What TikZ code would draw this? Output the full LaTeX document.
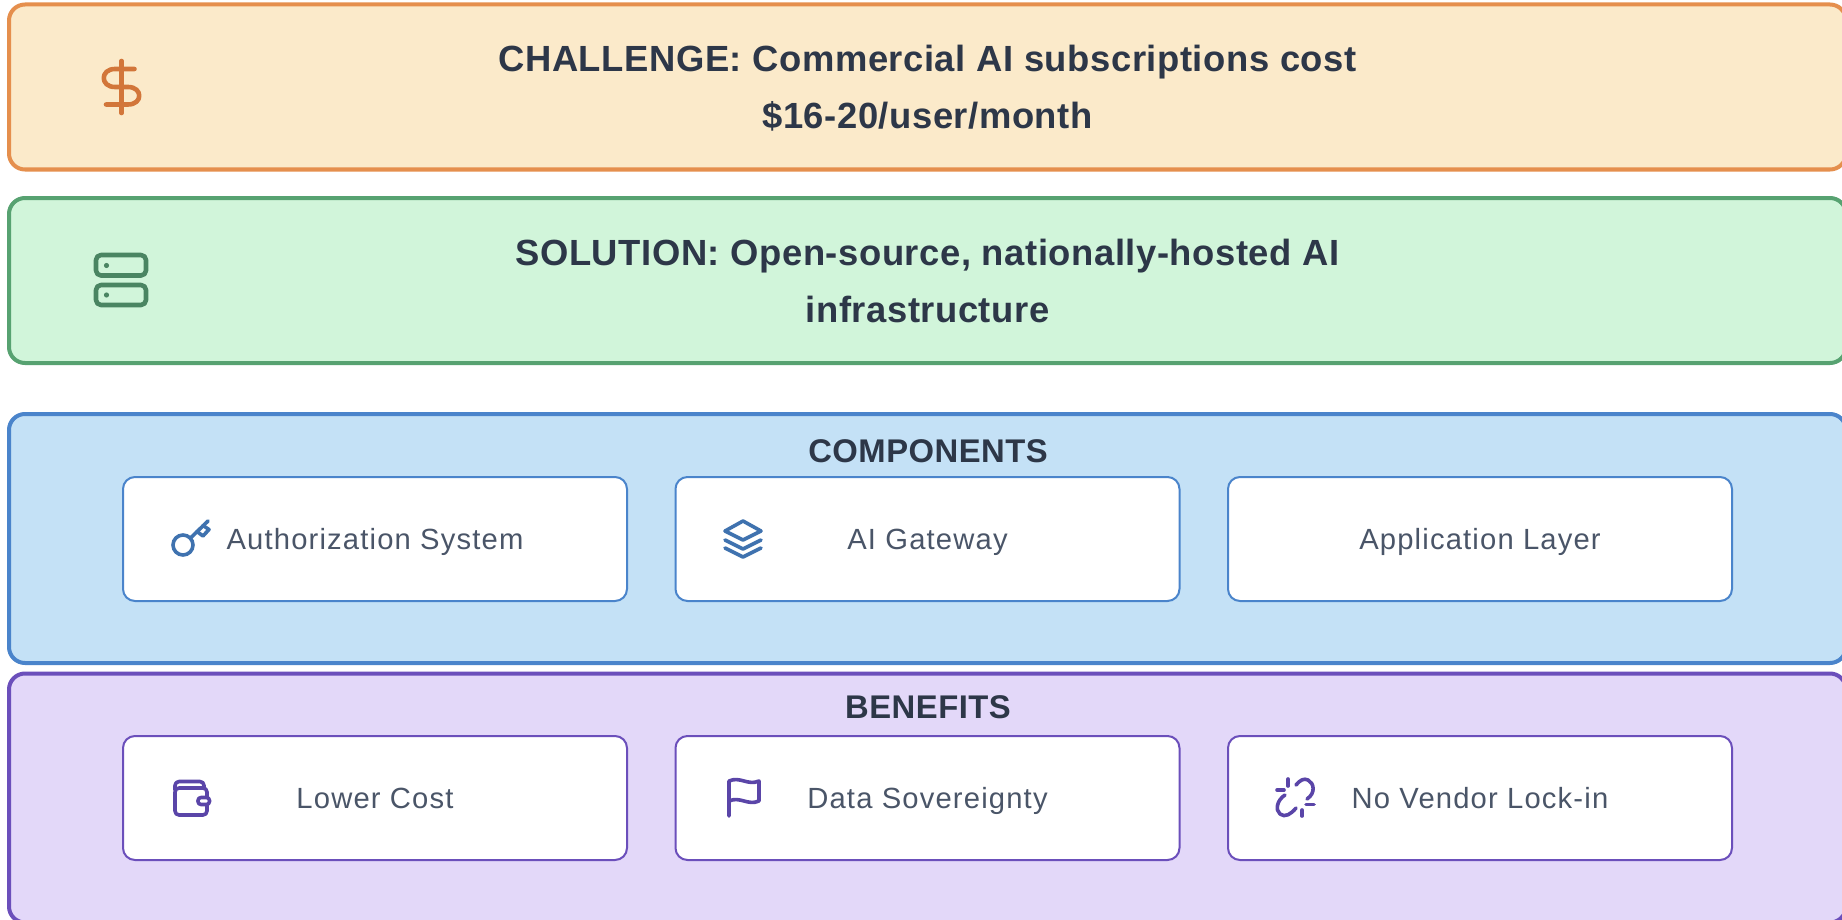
\documentclass[tikz,border=0pt]{standalone}
\usepackage{fontspec}
\setmainfont{Liberation Sans}
\newfontfamily\titlefont{Liberation Sans}[LetterSpace=1.5]
\newfontfamily\cardfont{Liberation Sans}[LetterSpace=4]
\definecolor{ttl}{HTML}{2D3748}
\definecolor{lbl}{HTML}{4A5568}
\definecolor{orF}{HTML}{FBEACA}\definecolor{orD}{HTML}{E58F4D}\definecolor{orI}{HTML}{D2763A}
\definecolor{grF}{HTML}{D1F5DA}\definecolor{grD}{HTML}{57A271}\definecolor{grI}{HTML}{4A8562}
\definecolor{blF}{HTML}{C4E1F6}\definecolor{blD}{HTML}{4A84CB}\definecolor{blI}{HTML}{3F72AF}
\definecolor{puF}{HTML}{E3D8F9}\definecolor{puD}{HTML}{6B4FBB}\definecolor{puI}{HTML}{5A45A8}
\tikzset{
  panel/.style={draw=#1,line width=2pt,rounded corners=8pt,inner sep=0pt,minimum width=918.5pt},
  headline/.style={font=\titlefont\bfseries\fontsize{18.2pt}{28.4pt}\selectfont,text=ttl,align=center,inner sep=0pt},
  section/.style={font=\titlefont\bfseries\fontsize{16.4pt}{18pt}\selectfont,text=ttl,inner sep=0pt,text height=11.8pt,text depth=0pt},
  card/.style={draw=#1,fill=white,line width=1pt,rounded corners=6pt,minimum width=252pt,minimum height=62pt,inner sep=0pt,
    font=\cardfont\fontsize{14.6pt}{16pt}\selectfont,text=lbl,text height=10.5pt,text depth=0pt},
  icon/.style={draw=#1,line width=2.3pt,line cap=round,line join=round},
  thinicon/.style={draw=#1,line width=1.8pt,line cap=round,line join=round},
}
\begin{document}
\begin{tikzpicture}[x=0.5pt,y=-0.5pt]
\useasboundingbox (0,0) rectangle (1842,920);
\clip (0,0) rectangle (1842,920);
\fill[white] (0,0) rectangle (1842,920);
% panels
\node[panel=orD,fill=orF,minimum height=82.5pt] (challenge) at (927.5,87) {};
\node[panel=grD,fill=grF,minimum height=82.5pt] (solution) at (927.5,280.5) {};
\node[headline] (challengetext) at (927.5,88) {CHALLENGE: Commercial AI subscriptions cost\\\$16-20/user/month};
\node[headline] (solutiontext) at (927.5,281) {SOLUTION: Open-source, nationally-hosted AI\\infrastructure};
\node[panel=blD,fill=blF,minimum height=124.5pt] (components) at (927.5,538.5) {};
\node[panel=puD,fill=puF,minimum height=124.5pt] (benefits) at (927.5,798) {};
\node[section] (comptitle) at (928,451) {COMPONENTS};
\node[section] (bentitle) at (928,707) {BENEFITS};
% cards
\node[card=blD] (auth) at (375,539) {Authorization System};
\node[card=blD] (gateway) at (927.5,539) {AI Gateway};
\node[card=blD] (app) at (1480,539) {Application Layer};
\node[card=puD] (cost) at (375,798) {Lower Cost};
\node[card=puD] (sov) at (927.5,798) {Data Sovereignty};
\node[card=puD] (lock) at (1480,798) {No Vendor Lock-in};
% dollar icon
\draw[icon=orI] (121.5,61) -- (121.5,113);
\draw[icon=orI] (134.5,69) -- (115,69) .. controls (100,69) and (100,87) .. (115,87) -- (128,87) .. controls (143,87) and (143,104.5) .. (128,104.5) -- (106,104.5);
% server icon
\draw[icon=grI,rounded corners=2.5pt] (96,255) rectangle (146,275.5);
\draw[icon=grI,rounded corners=2.5pt] (96,285) rectangle (146,305);
\fill[grI] (106.5,265.5) circle (2.6) (106.5,295) circle (2.6);
% key icon
\draw[thinicon=blI] (183,545) circle (10);
\draw[thinicon=blI] (190.5,538) -- (208,521);
\draw[thinicon=blI] (197,531.5) -- (203,536) -- (209,529.5) -- (203,525.5);
% layers icon
\draw[thinicon=blI] (743,521) -- (761,531) -- (743,540) -- (725,531) -- cycle;
\draw[thinicon=blI] (725,540) -- (743,549) -- (761,540);
\draw[thinicon=blI] (725,548) -- (743,557) -- (761,548);
% wallet icon
\draw[thinicon=puI,rounded corners=2pt] (175,788) -- (175,815) -- (207,815) -- (207,788) -- cycle;
\draw[thinicon=puI,rounded corners=2pt] (175,790) -- (175,781.5) -- (204,781.5) -- (204,788);
\draw[thinicon=puI,fill=white,rounded corners=1.5pt] (198,797.5) rectangle (209.5,804.5);
% flag icon
\draw[thinicon=puI] (729,816) -- (729,781) .. controls (740,776) and (748,786) .. (759,781) -- (759,801) .. controls (748,806) and (740,796) .. (729,801);
% broken link icon
\draw[thinicon=puI] (1288,779) -- (1288,786);
\draw[thinicon=puI] (1277,790) -- (1284,790);
\draw[thinicon=puI] (1302,810) -- (1302,816);
\draw[thinicon=puI] (1306,804.5) -- (1314,804.5);
\draw[thinicon=puI] (1296,785) .. controls (1300,780) and (1304,778) .. (1308,780) .. controls (1314,783) and (1316,793) .. (1307,799);
\draw[thinicon=puI] (1285,795) .. controls (1277,800) and (1275,810) .. (1280,814) .. controls (1285,818) and (1291,814) .. (1296,808);
\end{tikzpicture}
\end{document}
